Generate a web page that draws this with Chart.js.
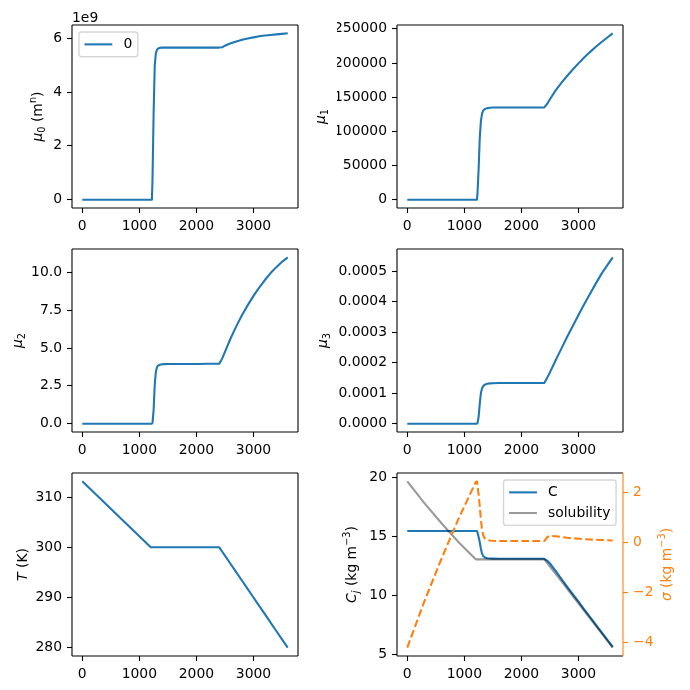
<!DOCTYPE html>
<html lang="en">
<head>
<meta charset="UTF-8">
<title>Moments, temperature and concentration</title>
<script src="https://cdn.jsdelivr.net/npm/chart.js"></script>
<style>
    body { margin: 0; background: #fff; }
    #wrap { position: relative; width: 690px; height: 690px; }
    #wrap canvas { position: absolute; left: 0; top: 0; }
</style>
</head>
<body>
<div id="wrap">
    <canvas id="pMu0" width="690" height="690"></canvas>
    <canvas id="pMu1" width="690" height="690"></canvas>
    <canvas id="pMu2" width="690" height="690"></canvas>
    <canvas id="pMu3" width="690" height="690"></canvas>
    <canvas id="pTemp" width="690" height="690"></canvas>
    <canvas id="pConc" width="690" height="690"></canvas>
</div>
<script>
    // time (s)
    const time = [0, 300, 600, 900, 1200, 1220, 1230, 1250, 1270, 1290, 1310, 1330, 1360, 1400, 1450, 1500,
        1600, 1800, 2000, 2200, 2400, 2450, 2500, 2600, 2700, 2800, 2900, 3000, 3100, 3200, 3300, 3400, 3500, 3600];

    const mu0 = [0, 0, 0, 0, 0, 0, 0.7e9, 3.2e9, 5.0e9, 5.45e9, 5.57e9, 5.62e9, 5.64e9, 5.65e9, 5.65e9, 5.65e9,
        5.65e9, 5.65e9, 5.65e9, 5.65e9, 5.65e9, 5.66e9, 5.72e9, 5.81e9, 5.88e9, 5.94e9, 5.99e9, 6.03e9, 6.07e9, 6.10e9, 6.12e9, 6.14e9, 6.16e9, 6.18e9];
    const mu1 = [0, 0, 0, 0, 0, 0, 8000, 45000, 90000, 115000, 126000, 130500, 132800, 134000, 134500, 134800,
        135000, 135000, 135000, 135000, 135000, 140000, 147000, 160000, 171000, 181000, 190500, 199500, 208000, 216000, 223500, 230500, 237000, 243500];
    const mu2 = [0, 0, 0, 0, 0, 0, 0.05, 0.9, 2.6, 3.45, 3.75, 3.85, 3.9, 3.93, 3.94, 3.95,
        3.95, 3.95, 3.95, 3.96, 3.97, 4.3, 4.75, 5.65, 6.45, 7.18, 7.84, 8.45, 9.0, 9.5, 9.96, 10.35, 10.7, 11.0];
    const mu3 = [0, 0, 0, 0, 0, 0, 0.01e-4, 0.22e-4, 0.65e-4, 1.0e-4, 1.16e-4, 1.23e-4, 1.28e-4, 1.31e-4, 1.32e-4, 1.325e-4,
        1.33e-4, 1.33e-4, 1.33e-4, 1.33e-4, 1.33e-4, 1.5e-4, 1.68e-4, 2.08e-4, 2.46e-4, 2.84e-4, 3.2e-4, 3.56e-4, 3.91e-4, 4.25e-4, 4.58e-4, 4.9e-4, 5.18e-4, 5.45e-4];
    const temperature = [313.15, 309.86, 306.58, 303.29, 300, 300, 300, 300, 300, 300, 300, 300, 300, 300, 300, 300,
        300, 300, 300, 300, 300, 299.17, 298.33, 296.67, 295, 293.33, 291.67, 290, 288.33, 286.67, 285, 283.33, 281.67, 280];
    const conc = [15.45, 15.45, 15.45, 15.45, 15.45, 15.45, 15.35, 14.95, 14.5, 13.95, 13.55, 13.33, 13.2, 13.14, 13.12, 13.11,
        13.1, 13.1, 13.1, 13.1, 13.1, 12.95, 12.7, 12.07, 11.41, 10.75, 10.11, 9.47, 8.82, 8.19, 7.55, 6.92, 6.28, 5.65];
    const solubility = [19.65, 17.8, 16.1, 14.5, 13.05, 13.05, 13.05, 13.05, 13.05, 13.05, 13.05, 13.05, 13.05, 13.05, 13.05, 13.05,
        13.05, 13.05, 13.05, 13.05, 13.05, 12.75, 12.44, 11.83, 11.2, 10.57, 9.95, 9.33, 8.7, 8.08, 7.45, 6.83, 6.2, 5.58];
    const supersat = [-4.2, -2.35, -0.65, 0.95, 2.4, 2.43, 2.3, 1.9, 1.45, 0.9, 0.5, 0.28, 0.15, 0.09, 0.07, 0.06,
        0.05, 0.05, 0.05, 0.05, 0.05, 0.2, 0.26, 0.24, 0.21, 0.18, 0.16, 0.14, 0.12, 0.11, 0.10, 0.09, 0.08, 0.07];

    const timeTicks = [0, 1000, 2000, 3000];
    const mu0Ticks = [0, 2e9, 4e9, 6e9];
    const mu1Ticks = [0, 50000, 100000, 150000, 200000, 250000];
    const mu2Ticks = [0, 2.5, 5, 7.5, 10];
    const mu3Ticks = [0, 0.0001, 0.0002, 0.0003, 0.0004, 0.0005];
    const tempTicks = [280, 290, 300, 310];
    const concTicks = [5, 10, 15, 20];
    const sigmaTicks = [-4, -2, 0, 2];

    const FONT = { family: 'DejaVu Sans', size: 13.9 };
    const FS = 13.9;
    const BLUE = '#1f77b4';
    const ORANGE = '#ff7f0e';

    function lim(arr) {
        const lo = Math.min(...arr), hi = Math.max(...arr), m = (hi - lo) * 0.05;
        return [lo - m, hi + m];
    }

    function pts(ys) {
        return time.map((t, i) => ({ x: t, y: ys[i] }));
    }

    function line(label, ys, color, extra) {
        return Object.assign({
            label: label, data: pts(ys), borderColor: color, borderWidth: 2.08,
            pointRadius: 0, tension: 0, fill: false, borderJoinStyle: 'round'
        }, extra || {});
    }

    function axisX() {
        const [lo, hi] = lim(time);
        return {
            type: 'linear', min: lo, max: hi, bounds: 'data',
            afterBuildTicks: s => { s.ticks = timeTicks.map(v => ({ value: v })); },
            afterFit: s => { s.height = 30; },
            grid: { display: true, drawOnChartArea: false, drawTicks: true, tickLength: 5, tickWidth: 1.1, tickColor: '#000' },
            border: { display: false },
            ticks: { color: '#000', font: FONT, padding: 5, maxRotation: 0, autoSkip: false, callback: v => String(v) }
        };
    }

    function axisY(vals, ticks, fmt, opts) {
        const [lo, hi] = lim(vals);
        const col = opts.color || '#000';
        return {
            type: 'linear', position: opts.position || 'left', min: lo, max: hi, bounds: 'data',
            afterBuildTicks: s => { s.ticks = ticks.map(v => ({ value: v })); },
            afterFit: s => { s.width = 60; },
            grid: { display: true, drawOnChartArea: false, drawTicks: true, tickLength: 5, tickWidth: 1.1, tickColor: col },
            border: { display: false },
            ticks: { color: col, font: FONT, padding: 5, autoSkip: false, callback: fmt }
        };
    }

    // rotated axis label with italic / sub / sup parts, like mathtext
    function drawRotated(ctx, parts, x, y, color) {
        const fontOf = p => (p[1].includes('i') ? 'italic ' : '') +
            ((p[1].startsWith('sub') || p[1] === 'sup') ? FS * 0.7 : FS) + 'px "DejaVu Sans"';
        ctx.save();
        ctx.translate(x, y);
        ctx.rotate(-Math.PI / 2);
        let total = 0;
        parts.forEach(p => { ctx.font = fontOf(p); total += ctx.measureText(p[0]).width; });
        let cx = -total / 2;
        ctx.fillStyle = color;
        ctx.textAlign = 'left';
        ctx.textBaseline = 'alphabetic';
        parts.forEach(p => {
            ctx.font = fontOf(p);
            let dy = FS * 0.36;
            if (p[1].startsWith('sub')) dy += FS * 0.2;
            if (p[1] === 'sup') dy -= FS * 0.4;
            ctx.fillText(p[0], cx, dy);
            cx += ctx.measureText(p[0]).width;
        });
        ctx.restore();
    }

    const mplExtras = {
        id: 'mplExtras',
        afterDraw(chart, args, opts) {
            const { ctx, chartArea: a } = chart;
            ctx.save();
            // spines
            ctx.lineWidth = 1.1;
            const side = (x1, y1, x2, y2, c) => {
                ctx.strokeStyle = c;
                ctx.beginPath(); ctx.moveTo(x1, y1); ctx.lineTo(x2, y2); ctx.stroke();
            };
            side(a.left, a.top, a.right, a.top, '#000');
            side(a.left, a.bottom, a.right, a.bottom, '#000');
            side(a.left, a.top, a.left, a.bottom, '#000');
            side(a.right, a.top, a.right, a.bottom, opts.rightSpine || '#000');

            // legend
            if (opts.legend) {
                const pad = 0.4 * FS, hl = 2 * FS, htp = 0.8 * FS, ls = 0.5 * FS, bap = 0.5 * FS, rowH = 13.7;
                ctx.font = FS + 'px "DejaVu Sans"';
                const items = opts.legend.items.map(i => chart.data.datasets[i]);
                const tw = Math.max(...items.map(d => ctx.measureText(d.label).width));
                const w = pad * 2 + hl + htp + tw;
                const h = pad * 2 + items.length * rowH + (items.length - 1) * ls;
                const x = opts.legend.loc === 'upper right' ? a.right - bap - w : a.left + bap;
                const y = a.top + bap;
                ctx.beginPath();
                ctx.roundRect(x, y, w, h, 0.2 * FS);
                ctx.fillStyle = 'rgba(255,255,255,0.8)';
                ctx.fill();
                ctx.strokeStyle = 'rgba(204,204,204,0.8)';
                ctx.lineWidth = 1.39;
                ctx.stroke();
                items.forEach((d, k) => {
                    const cy = y + pad + rowH / 2 + k * (rowH + ls);
                    ctx.strokeStyle = d.borderColor;
                    ctx.lineWidth = d.borderWidth;
                    ctx.setLineDash(d.borderDash || []);
                    ctx.beginPath(); ctx.moveTo(x + pad, cy); ctx.lineTo(x + pad + hl, cy); ctx.stroke();
                    ctx.setLineDash([]);
                    ctx.fillStyle = '#000';
                    ctx.textAlign = 'left';
                    ctx.textBaseline = 'middle';
                    ctx.fillText(d.label, x + pad + hl + htp, cy + 0.5);
                });
            }

            // offset text (1e9)
            if (opts.offset) {
                ctx.font = FS + 'px "DejaVu Sans"';
                ctx.fillStyle = '#000';
                ctx.textAlign = 'left';
                ctx.textBaseline = 'alphabetic';
                ctx.fillText(opts.offset, a.left, a.top - 3.3);
            }
            ctx.restore();

            (opts.labels || []).forEach(l => drawRotated(ctx, l.parts, l.x, (a.top + a.bottom) / 2, l.color || '#000'));
        }
    };

    function panel(id, box, datasets, scales, extra) {
        const rw = scales.y2 ? 60 : 0;
        new Chart(document.getElementById(id), {
            type: 'line',
            data: { datasets: datasets },
            options: {
                responsive: false,
                animation: false,
                events: [],
                layout: { padding: { left: box.l - 60, top: box.t, right: 690 - box.r - rw, bottom: 690 - box.b - 30 } },
                scales: Object.assign({ x: axisX() }, scales),
                plugins: { legend: { display: false }, tooltip: { enabled: false }, mplExtras: extra }
            },
            plugins: [mplExtras]
        });
    }

    const col1 = { l: 72, r: 298 }, col2 = { l: 397, r: 623 };
    const row1 = { t: 25, b: 208 }, row2 = { t: 249, b: 432 }, row3 = { t: 473, b: 656 };

    panel('pMu0', Object.assign({}, col1, row1),
        [line('0', mu0, BLUE)],
        { y: axisY(mu0, mu0Ticks, v => String(v / 1e9), {}) },
        { legend: { items: [0], loc: 'upper left' }, offset: '1e9',
          labels: [{ x: 37, parts: [['μ', 'i'], ['0', 'sub'], [' (m', ''], ['n', 'sup'], [')', '']] }] });

    panel('pMu1', Object.assign({}, col2, row1),
        [line('mu1', mu1, BLUE)],
        { y: axisY(mu1, mu1Ticks, v => String(v), {}) },
        { labels: [{ x: 320, parts: [['μ', 'i'], ['1', 'sub']] }] });

    panel('pMu2', Object.assign({}, col1, row2),
        [line('mu2', mu2, BLUE)],
        { y: axisY(mu2, mu2Ticks, v => v.toFixed(1), {}) },
        { labels: [{ x: 17, parts: [['μ', 'i'], ['2', 'sub']] }] });

    panel('pMu3', Object.assign({}, col2, row2),
        [line('mu3', mu3, BLUE)],
        { y: axisY(mu3, mu3Ticks, v => v.toFixed(4), {}) },
        { labels: [{ x: 322, parts: [['μ', 'i'], ['3', 'sub']] }] });

    panel('pTemp', Object.assign({}, col1, row3),
        [line('T', temperature, BLUE)],
        { y: axisY(temperature, tempTicks, v => String(v), {}) },
        { labels: [{ x: 22, parts: [['T', 'i'], [' (K)', '']] }] });

    panel('pConc', Object.assign({}, col2, row3),
        [
            line('sigma', supersat, ORANGE, { yAxisID: 'y2', borderDash: [7.7, 3.33] }),
            line('solubility', solubility, 'rgba(0,0,0,0.4)'),
            line('C', conc, BLUE)
        ],
        {
            y: axisY(conc.concat(solubility), concTicks, v => String(v), {}),
            y2: axisY(supersat, sigmaTicks, v => String(v).replace('-', '\u2212'), { position: 'right', color: ORANGE })
        },
        {
            legend: { items: [2, 1], loc: 'upper right' },
            rightSpine: ORANGE,
            labels: [
                { x: 351, parts: [['C', 'i'], ['j', 'subi'], [' (kg m', ''], ['−3', 'sup'], [')', '']] },
                { x: 666, color: ORANGE, parts: [['σ', 'i'], [' (kg m', ''], ['−3', 'sup'], [')', '']] }
            ]
        });
</script>
</body>
</html>
